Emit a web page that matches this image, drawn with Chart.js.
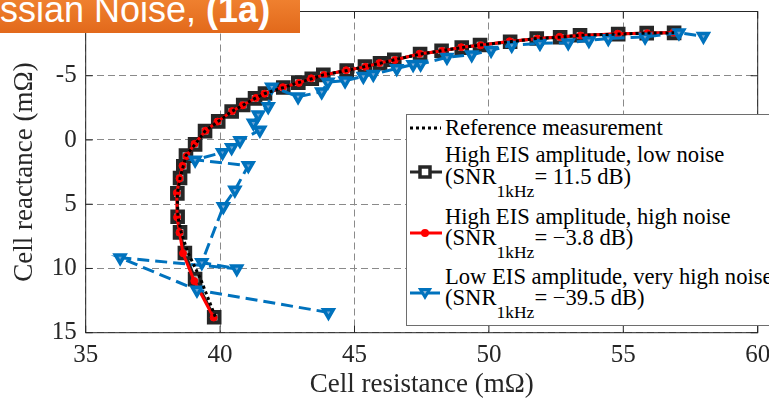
<!DOCTYPE html>
<html><head><meta charset="utf-8">
<script src="https://cdn.jsdelivr.net/npm/chart.js@4"></script>
<style>
html,body{margin:0;padding:0;background:#fff;overflow:hidden}
#wrap{position:relative;width:769px;height:401px;overflow:hidden}
#c{position:absolute;left:0;top:0}
#banner{position:absolute;left:0;top:0;width:300px;height:33px;background:linear-gradient(#EF802F,#E2691B);overflow:hidden}
#banner .t{position:absolute;left:0px;top:-8.5px;font-family:'Liberation Sans',Arial,sans-serif;font-size:36px;line-height:36px;color:#fff;white-space:nowrap}
#legend{position:absolute;left:406px;top:114px;width:380px;height:210px;border:1px solid #6e6e6e;background:#fff;font-family:'Liberation Serif','Times New Roman',serif;font-size:22.6px;color:#000}
#legend svg{position:absolute;left:0;top:0}
.ln{position:absolute;left:38px;line-height:22px;white-space:nowrap}
.sub{font-size:17.5px;position:relative;top:13px}
</style>
</head><body>
<div id="wrap">
<canvas id="c" width="790" height="401"></canvas>
<div id="banner"><span class="t">ssian Noise, <b>(1a)</b></span></div>
<div id="legend">
<svg width="60" height="210">
<line x1="3" y1="13" x2="34" y2="13" stroke="#000" stroke-width="3" stroke-dasharray="3 3"/>
<line x1="3" y1="57" x2="35" y2="57" stroke="#262626" stroke-width="3"/>
<rect x="13" y="52" width="10" height="10" fill="#fff" stroke="#262626" stroke-width="3.5"/>
<line x1="3" y1="118" x2="35" y2="118" stroke="#ff0000" stroke-width="3"/>
<circle cx="18" cy="118" r="4" fill="#ff0000"/>
<line x1="3" y1="178" x2="35" y2="178" stroke="#0072BD" stroke-width="3" stroke-dasharray="12 6"/>
<polygon points="13.5,174.5 22.5,174.5 18,182" fill="#8fb8dc" stroke="#0072BD" stroke-width="3"/>
</svg>
<div class="ln" style="top:2px">Reference measurement</div>
<div class="ln" style="top:29px">High EIS amplitude, low noise</div>
<div class="ln" style="top:51px">(SNR<span class="sub">1kHz</span>= 11.5 dB)</div>
<div class="ln" style="top:91px">High EIS amplitude, high noise</div>
<div class="ln" style="top:112px">(SNR<span class="sub">1kHz</span>= −3.8 dB)</div>
<div class="ln" style="top:151px">Low EIS amplitude, very high noise</div>
<div class="ln" style="top:172px">(SNR<span class="sub">1kHz</span>= −39.5 dB)</div>
</div>
</div>
<script>
// ---- data (resistance R in mΩ, reactance X in mΩ) ----
const xTicks = [35, 40, 45, 50, 55, 60];
const yTicks = [-10, -5, 0, 5, 10, 15];

const refR = [39.82,39.28,38.80,38.55,38.43,38.41,38.51,38.63,38.73,39.07,39.44,39.93,40.43,40.86,41.30,41.67,42.35,42.91,43.41,43.84,44.71,45.39,45.95,46.48,47.44,48.24,48.99,49.67,50.79,51.78,52.65,53.39,54.81,55.87,56.89];
const refX = [13.75,10.85,8.75,7.15,5.97,4.16,2.96,2.04,1.22,0.34,-0.69,-1.45,-2.22,-2.72,-3.24,-3.62,-4.08,-4.46,-4.77,-5.07,-5.40,-5.71,-5.97,-6.24,-6.68,-6.95,-7.19,-7.39,-7.65,-7.90,-8.00,-8.15,-8.24,-8.32,-8.34];

const lowNoiseR = [39.78,39.07,38.69,38.51,38.42,38.41,38.51,38.63,38.73,39.07,39.44,39.93,40.43,40.86,41.30,41.67,42.35,42.91,43.41,43.84,44.71,45.39,45.95,46.48,47.44,48.24,48.99,49.67,50.79,51.78,52.65,53.39,54.81,55.87,56.89];
const lowNoiseX = [13.80,10.83,8.80,7.19,5.97,4.16,2.96,2.04,1.22,0.34,-0.69,-1.45,-2.22,-2.72,-3.24,-3.62,-4.08,-4.46,-4.77,-5.07,-5.40,-5.71,-5.97,-6.24,-6.68,-6.95,-7.19,-7.39,-7.65,-7.90,-8.00,-8.15,-8.24,-8.32,-8.34];

const highNoiseR = [39.76,39.04,38.62,38.49,38.40,38.39,38.49,38.60,38.75,39.05,39.46,39.90,40.45,40.84,41.33,41.65,42.33,42.93,43.39,43.86,44.69,45.41,45.93,46.50,47.42,48.26,48.97,49.69,50.77,51.80,52.63,53.41,54.79,55.89,56.87];
const highNoiseX = [13.82,10.98,8.82,7.21,6.02,4.11,2.99,2.01,1.25,0.30,-0.72,-1.43,-2.25,-2.70,-3.27,-3.60,-4.11,-4.44,-4.80,-5.05,-5.43,-5.69,-6.00,-6.22,-6.71,-6.93,-7.22,-7.37,-7.68,-7.88,-8.03,-8.13,-8.27,-8.30,-8.37];

const veryHighR = [44.03,39.14,36.28,40.62,39.32,40.12,40.55,41.05,39.07,40.09,40.43,40.74,41.48,41.24,41.42,41.79,41.92,42.90,43.78,44.01,44.65,45.33,45.70,46.57,47.18,47.46,48.44,49.36,50.08,50.85,51.90,52.95,53.72,54.44,55.81,57.07,57.98];
const veryHighX = [13.42,11.68,9.16,10.02,9.54,5.18,3.90,1.99,1.55,0.97,0.59,0.05,-0.77,-1.32,-1.96,-2.60,-4.13,-3.37,-3.75,-4.51,-4.61,-4.96,-5.11,-5.57,-5.88,-5.91,-6.43,-6.64,-6.99,-7.37,-7.52,-7.57,-7.75,-7.90,-8.02,-8.34,-8.08];

const pts = (rs, xs) => rs.map((r, i) => ({x: r, y: xs[i]}));
const FAMILY = "'Liberation Serif','Times New Roman',serif";
const TXT = '#262626';

const framePlugin = {
  id: 'frame',
  afterDraw(chart) {
    const {ctx, chartArea: a, scales: {x, y}} = chart;
    ctx.save();
    ctx.setLineDash([]);
    ctx.strokeStyle = TXT;
    ctx.lineWidth = 1;
    ctx.strokeRect(a.left, a.top, a.right - a.left, a.bottom - a.top);
    const L = 7;
    ctx.beginPath();
    xTicks.forEach(v => {
      const p = x.getPixelForValue(v);
      ctx.moveTo(p, a.bottom); ctx.lineTo(p, a.bottom - L);
      ctx.moveTo(p, a.top); ctx.lineTo(p, a.top + L);
    });
    yTicks.forEach(v => {
      const p = y.getPixelForValue(v);
      ctx.moveTo(a.left, p); ctx.lineTo(a.left + L, p);
      ctx.moveTo(a.right, p); ctx.lineTo(a.right - L, p);
    });
    ctx.stroke();
    ctx.restore();
  }
};

new Chart(document.getElementById('c'), {
  type: 'scatter',
  data: {
    datasets: [
      {
        label: 'Reference measurement',
        data: pts(refR, refX),
        showLine: true, borderColor: '#000', borderWidth: 3, borderDash: [3, 3],
        pointRadius: 0, order: 0
      },
      {
        label: 'Low EIS amplitude, very high noise',
        data: pts(veryHighR, veryHighX),
        showLine: true, borderColor: '#0072BD', borderWidth: 3, borderDash: [12, 6],
        pointStyle: 'triangle', rotation: 180, pointRadius: 5.5, pointBorderWidth: 3.5,
        pointBorderColor: '#0072BD', pointBackgroundColor: 'rgba(120,170,215,0.9)', order: 1
      },
      {
        label: 'High EIS amplitude, high noise',
        data: pts(highNoiseR, highNoiseX),
        showLine: true, borderColor: '#ff0000', borderWidth: 3,
        pointStyle: 'circle', pointRadius: 3.5, pointBorderWidth: 1,
        pointBorderColor: '#ff0000', pointBackgroundColor: '#ff0000', order: 2
      },
      {
        label: 'High EIS amplitude, low noise',
        data: pts(lowNoiseR, lowNoiseX),
        showLine: true, borderColor: '#262626', borderWidth: 3,
        pointStyle: 'rect', pointRadius: 7.5, pointBorderWidth: 4,
        pointBorderColor: '#262626', pointBackgroundColor: 'rgba(170,170,170,0.9)', order: 3
      }
    ]
  },
  options: {
    responsive: false, animation: false, devicePixelRatio: 1,
    layout: {padding: {left: 0, top: 6, right: 32.3, bottom: 0}},
    plugins: {legend: {display: false}, tooltip: {enabled: false}},
    scales: {
      x: {
        type: 'linear', min: 35, max: 60,
        afterBuildTicks: s => { s.ticks = xTicks.map(v => ({value: v})); },
        afterFit: s => { s.height = 68.3; s.paddingLeft = 0; s.paddingRight = 0; },
        grid: {color: '#8a8a8a', lineWidth: 1, drawTicks: false},
        border: {display: false, dash: [7, 4]},
        ticks: {font: {family: FAMILY, size: 25}, color: TXT, padding: 8, maxRotation: 0, autoSkip: false,
                callback: v => String(v)},
        title: {display: true, text: 'Cell resistance (mΩ)', color: TXT,
                font: {family: FAMILY, size: 27}, padding: {top: 0, bottom: 0}}
      },
      y: {
        type: 'linear', min: -10, max: 15, reverse: true,
        afterBuildTicks: s => { s.ticks = yTicks.map(v => ({value: v})); },
        afterFit: s => { s.width = 85.7; s.paddingTop = 0; s.paddingBottom = 0; },
        grid: {color: '#8a8a8a', lineWidth: 1, drawTicks: false},
        border: {display: false, dash: [7, 4]},
        ticks: {font: {family: FAMILY, size: 25}, color: TXT, padding: 9, autoSkip: false,
                callback: v => (v === -10 ? '' : String(v))},
        title: {display: true, text: 'Cell reactance (mΩ)', color: TXT,
                font: {family: FAMILY, size: 27}, padding: {top: 9, bottom: 0}}
      }
    }
  },
  plugins: [framePlugin]
});
</script>
</body></html>
